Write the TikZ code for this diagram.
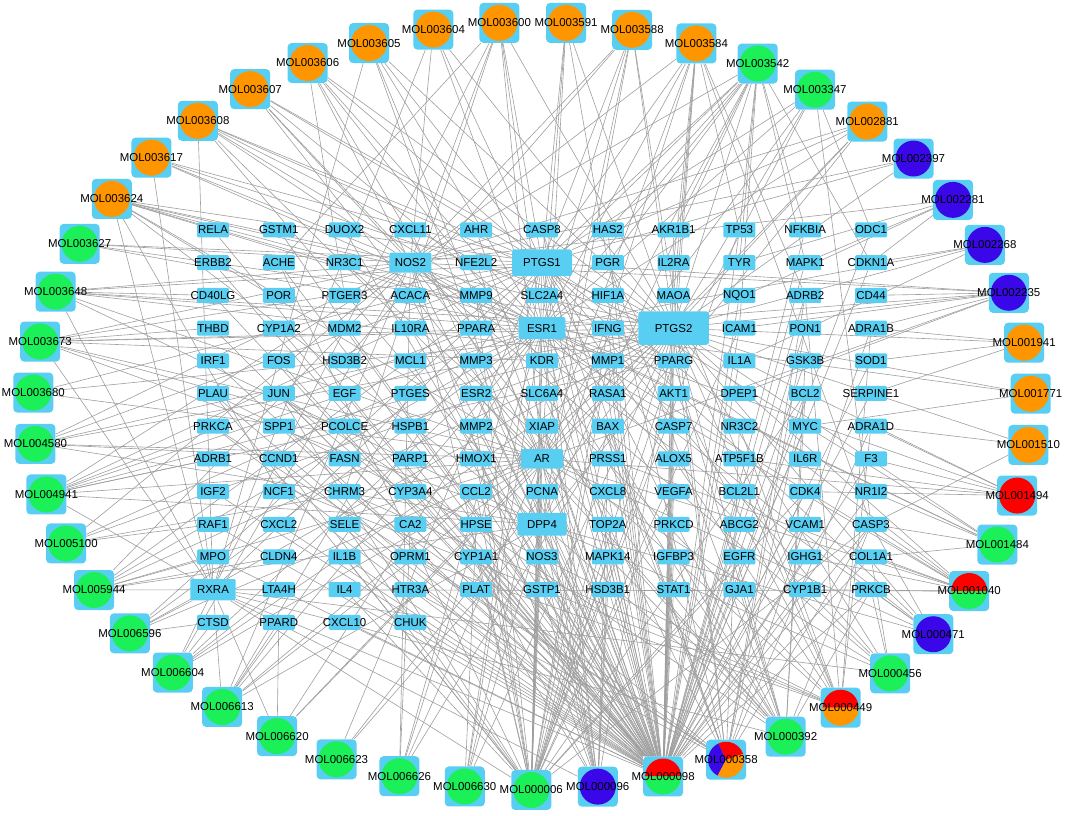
\documentclass[tikz,border=0pt]{standalone}
\usepackage{fontspec}
\setmainfont{Liberation Sans}
\usepackage{tikz}
\pgfdeclarelayer{bg}
\pgfsetlayers{bg,main}

\definecolor{boxblue}{RGB}{88,206,242}
\definecolor{molorange}{RGB}{255,150,0}
\definecolor{molgreen}{RGB}{28,240,88}
\definecolor{molblue}{RGB}{58,8,232}
\definecolor{molred}{RGB}{255,0,0}
\definecolor{edgegray}{RGB}{158,158,158}

\tikzset{
  gene/.style={rectangle, fill=boxblue, rounded corners=1pt, inner sep=0pt,
    minimum width=24pt, minimum height=11.25pt, font=\fontsize{8.6}{10}\selectfont},
  big NOS2/.style={minimum width=31.5pt, minimum height=15pt},
  big PTGS1/.style={minimum width=45pt, minimum height=20pt, rounded corners=2pt},
  big ESR1/.style={minimum width=35pt, minimum height=16.5pt},
  big PTGS2/.style={minimum width=53pt, minimum height=25pt, rounded corners=2pt},
  big AR/.style={minimum width=31.5pt, minimum height=14.5pt},
  big DPP4/.style={minimum width=37pt, minimum height=17pt},
  big RXRA/.style={minimum width=34pt, minimum height=16pt},
  mol/.style={rectangle, fill=boxblue, rounded corners=3pt, inner sep=0pt,
    minimum size=30pt, font=\fontsize{8.6}{10}\selectfont},
  moldot/.style={path picture={\fill[#1] (path picture bounding box.center) circle (13.5pt);}},
  dotorange/.style={moldot=molorange},
  dotgreen/.style={moldot=molgreen},
  dotblue/.style={moldot=molblue},
  dotred/.style={moldot=molred},
  moltwo/.style 2 args={path picture={
    \fill[#1, sharp corners] (path picture bounding box.center) -- +(0:13.5pt) arc (0:180:13.5pt) -- cycle;
    \fill[#2, sharp corners] (path picture bounding box.center) -- +(180:13.5pt) arc (180:360:13.5pt) -- cycle;}},
  pieredgreen/.style={moltwo={molred}{molgreen}},
  pieredorange/.style={moltwo={molred}{molorange}},
  piethree/.style={path picture={
    \fill[molred, sharp corners] (path picture bounding box.center) -- +(19:13.5pt) arc (19:116:13.5pt) -- cycle;
    \fill[molblue, sharp corners] (path picture bounding box.center) -- +(116:13.5pt) arc (116:242:13.5pt) -- cycle;
    \fill[molorange, sharp corners] (path picture bounding box.center) -- +(242:13.5pt) arc (242:379:13.5pt) -- cycle;}},
  link/.style={draw=edgegray, line width=0.45pt},
}

\begin{document}
\begin{tikzpicture}[x=0.75pt, y=-0.75pt]

  \useasboundingbox (0,0) rectangle (1065,816);

  % Define nodes: targets
  \foreach \row [count=\r from 0] in {
    {RELA,GSTM1,DUOX2,CXCL11,AHR,CASP8,HAS2,AKR1B1,TP53,NFKBIA,ODC1},
    {ERBB2,ACHE,NR3C1,NOS2,NFE2L2,PTGS1,PGR,IL2RA,TYR,MAPK1,CDKN1A},
    {CD40LG,POR,PTGER3,ACACA,MMP9,SLC2A4,HIF1A,MAOA,NQO1,ADRB2,CD44},
    {THBD,CYP1A2,MDM2,IL10RA,PPARA,ESR1,IFNG,PTGS2,ICAM1,PON1,ADRA1B},
    {IRF1,FOS,HSD3B2,MCL1,MMP3,KDR,MMP1,PPARG,IL1A,GSK3B,SOD1},
    {PLAU,JUN,EGF,PTGES,ESR2,SLC6A4,RASA1,AKT1,DPEP1,BCL2,SERPINE1},
    {PRKCA,SPP1,PCOLCE,HSPB1,MMP2,XIAP,BAX,CASP7,NR3C2,MYC,ADRA1D},
    {ADRB1,CCND1,FASN,PARP1,HMOX1,AR,PRSS1,ALOX5,ATP5F1B,IL6R,F3},
    {IGF2,NCF1,CHRM3,CYP3A4,CCL2,PCNA,CXCL8,VEGFA,BCL2L1,CDK4,NR1I2},
    {RAF1,CXCL2,SELE,CA2,HPSE,DPP4,TOP2A,PRKCD,ABCG2,VCAM1,CASP3},
    {MPO,CLDN4,IL1B,OPRM1,CYP1A1,NOS3,MAPK14,IGFBP3,EGFR,IGHG1,COL1A1},
    {RXRA,LTA4H,IL4,HTR3A,PLAT,GSTP1,HSD3B1,STAT1,GJA1,CYP1B1,PRKCB},
    {CTSD,PPARD,CXCL10,CHUK}}{
    \foreach \g [count=\c from 0] in \row
      \node[gene, big \g/.try] (\g) at ({213+65.8*\c},{230+32.7*\r}) {\makebox[0pt]{\g}};
  }

  % Define nodes: compounds
  \foreach \m/\s [count=\k from 0] in {
    MOL003680/dotgreen, MOL003673/dotgreen, MOL003648/dotgreen, MOL003627/dotgreen,
    MOL003624/dotorange, MOL003617/dotorange, MOL003608/dotorange, MOL003607/dotorange,
    MOL003606/dotorange, MOL003605/dotorange, MOL003604/dotorange, MOL003600/dotorange,
    MOL003591/dotorange, MOL003588/dotorange, MOL003584/dotorange, MOL003542/dotgreen,
    MOL003347/dotgreen, MOL002881/dotorange, MOL002397/dotblue, MOL002281/dotblue,
    MOL002268/dotblue, MOL002235/dotblue, MOL001941/dotorange, MOL001771/dotorange,
    MOL001510/dotorange, MOL001494/dotred, MOL001484/dotgreen, MOL001040/pieredgreen,
    MOL000471/dotblue, MOL000456/dotgreen, MOL000449/pieredorange, MOL000392/dotgreen,
    MOL000358/piethree, MOL000098/pieredgreen, MOL000096/dotblue, MOL000006/dotgreen,
    MOL006630/dotgreen, MOL006626/dotgreen, MOL006623/dotgreen, MOL006620/dotgreen,
    MOL006613/dotgreen, MOL006604/dotgreen, MOL006596/dotgreen, MOL005944/dotgreen,
    MOL005100/dotgreen, MOL004941/dotgreen, MOL004580/dotgreen}
    \node[mol, \s] (\m) at ({532+499*cos(178-360/47*\k)},{406-384*sin(178-360/47*\k)}) {\makebox[0pt]{\m}};

  % Connect the nodes
  \begin{pgfonlayer}{bg}
  \foreach \m/\targets in {
    MOL003680/{PTGS1,PTGS2,AR},
    MOL003673/{PTGS1,PTGS2,ESR1,NOS2,AR,THBD,DPP4,RXRA,KDR,PCOLCE},
    MOL003648/{PTGS1,PTGS2,ESR1,NOS2,AR,CD40LG,DPP4,RXRA,PPARG},
    MOL003627/{PTGS1,PTGS2,NOS2,ESR1},
    MOL003624/{PTGS1,PTGS2,NOS2,ESR1,AR,DPP4,RXRA,PPARG,NCF1,MMP9,POR},
    MOL003617/{PTGS1,PTGS2,NOS2,ESR1,RXRA},
    MOL003608/{PTGS1,PTGS2,NOS2,ESR1,AR,DPP4,RXRA,PPARG},
    MOL003607/{PTGS1,PTGS2,ESR1,NOS2,AR,PPARA},
    MOL003606/{PTGS1,PTGS2,NOS2,ESR1,AR,KDR,PTGER3},
    MOL003605/{PTGS1,PTGS2,ESR1,AR,RXRA,DPP4},
    MOL003604/{PTGS1,PTGS2,ESR1,NOS2,RXRA},
    MOL003600/{PTGS1,PTGS2,NOS2,ESR1,AR,RXRA,ACHE,CHRM3},
    MOL003591/{PTGS1,PTGS2,ESR1,PGR,AR},
    MOL003588/{PTGS1,PTGS2,ESR1,AR,DPP4,HSD3B2,NOS2,MAOA},
    MOL003584/{PTGS1,PTGS2,ESR1,AR,DPP4,PPARG,NOS2,ADRB2,MAOA,IL2RA,CASP3,TP53},
    MOL003542/{PTGS1,PTGS2,NOS2,ESR1,AR,DPP4,RXRA,PGR,HAS2,AKR1B1,TP53,NFKBIA,MAPK1,CDKN1A,ICAM1,TYR},
    MOL003347/{PTGS1,PTGS2,ESR1,AR,PPARG,ODC1,CASP3},
    MOL002881/{PTGS1,PTGS2,NOS2,ESR1,AR,DPP4},
    MOL002397/{PTGS1,PTGS2,NOS2},
    MOL002281/{PTGS2,CDKN1A,MAPK1,NOS2,TYR},
    MOL002268/{PTGS2,CDKN1A,IL1A,ESR1},
    MOL002235/{PTGS1,PTGS2,NOS2,ESR1,AR,CD44,ADRA1B,ICAM1,DPEP1},
    MOL001941/{PTGS2,ADRA1B,SERPINE1,SOD1},
    MOL001771/{PTGS2,ESR1,MYC},
    MOL001510/{PTGS2,ADRA1D,CASP3},
    MOL001494/{PTGS2,ESR1,AR,F3,ADRA1D,CDK4,ATP5F1B},
    MOL001484/{PTGS1,PTGS2,NOS2,ESR1,CASP3,COL1A1,NR1I2},
    MOL001040/{PTGS1,PTGS2,NOS2,ESR1,AR,RXRA,CASP3,COL1A1,IGHG1,CYP1B1,PRSS1},
    MOL000471/{PTGS1,PTGS2,NOS2,ESR1,AR,DPP4,CASP3,PRKCB},
    MOL000456/{PTGS1,PTGS2,NOS2,ESR1,AR,RXRA,DPP4,PRKCB,COL1A1},
    MOL000449/{PGR,NR3C2,NR3C1,PTGS1,PTGS2,ADRB2,ADRA1B,CHRM3,SLC6A4,OPRM1,ADRA1D,ADRB1,MAOA,PLAU},
    MOL000392/{PTGS1,PTGS2,ESR1,AR,PPARG,PGR,NOS2,ESR2,DPP4,RXRA,KDR,MAPK14,GSK3B,CASP3,BCL2,JUN,PRKCB,GJA1},
    MOL000358/{PGR,NR3C2,PTGS1,PTGS2,CHRM3,SLC6A4,OPRM1,ADRA1B,ADRA1D,ADRB2,HTR3A,BCL2,BAX,JUN,CASP3,CASP8,PRKCA,PON1,MAOA},
    MOL000098/{PTGS1,PTGS2,NOS2,ESR1,AR,DPP4,RXRA,PPARG,KDR,ACHE,AKT1,VEGFA,JUN,FOS,CASP3,CASP8,CASP7,BAX,BCL2,BCL2L1,MCL1,XIAP,MYC,CCND1,CDKN1A,TP53,MDM2,EGFR,EGF,ERBB2,MAPK1,MAPK14,RELA,NFKBIA,IL1B,IL4,IL1A,IL2RA,IL10RA,CXCL8,CXCL2,CXCL10,CXCL11,CCL2,ICAM1,VCAM1,SELE,IFNG,STAT1,MMP1,MMP2,MMP3,MMP9,SPP1,PLAU,PLAT,SERPINE1,F3,THBD,HMOX1,NQO1,GSTP1,GSTM1,CYP1A1,CYP1A2,CYP1B1,CYP3A4,AHR,NFE2L2,HIF1A,SOD1,MPO,PRKCA,PRKCB,PRKCD,RAF1,IGF2,IGFBP3,HSPB1,PARP1,TOP2A,PCNA,CDK4,GSK3B,ODC1,ALOX5,PON1,COL1A1,CD40LG,IRF1,DUOX2,NCF1,ABCG2,ACACA,CHUK,IGHG1,HAS2,AKR1B1,ADRB2,SLC2A4,ESR2,NR1I2,RASA1},
    MOL000096/{PTGS1,PTGS2,NOS2,ESR1,AR,DPP4,RXRA,NOS3,GSTP1,HSD3B1,MAPK14,PLAT,CYP1A1,PCNA,PRSS1},
    MOL000006/{PTGS1,PTGS2,NOS2,ESR1,AR,DPP4,RXRA,PPARG,KDR,ACHE,AKT1,VEGFA,JUN,CASP3,BAX,BCL2,MMP9,MMP2,MMP1,EGFR,ICAM1,CCL2,CXCL8,IL1B,IL4,TOP2A,PCNA,HMOX1,MAPK14,CCND1,SELE,CYP1A1,PLAU,TP53,IFNG,CDK4,XIAP},
    MOL006630/{PTGS2,PTGS1,ESR1,AR,DPP4,HPSE},
    MOL006626/{PTGS1,PTGS2,ESR1,AR,NOS2,CA2},
    MOL006623/{PTGS1,PTGS2,DPP4},
    MOL006620/{PTGS2,ESR1,AR,RXRA,PPARD},
    MOL006613/{PTGS1,PTGS2,ESR1,AR,DPP4,RXRA,PPARD,NOS2,PTGES},
    MOL006604/{PTGS2,NOS2,ESR1,AR,RXRA,CTSD,LTA4H},
    MOL006596/{PTGS1,PTGS2,RXRA,ESR1,AR,CTSD},
    MOL005944/{PTGS1,PTGS2,NOS2,ESR1,AR,DPP4,MPO,RXRA,CLDN4},
    MOL005100/{PTGS2,NOS2,ESR1,AR,RAF1},
    MOL004941/{PTGS1,PTGS2,NOS2,ESR1,AR,DPP4,RXRA,PPARG,ADRB1,PPARA},
    MOL004580/{PTGS1,PTGS2,NOS2,ESR1,AR,DPP4,FASN}}{
    \foreach \g in \targets
      \draw[link] (\m) -- (\g);
  }
  \end{pgfonlayer}

\end{tikzpicture}
\end{document}
